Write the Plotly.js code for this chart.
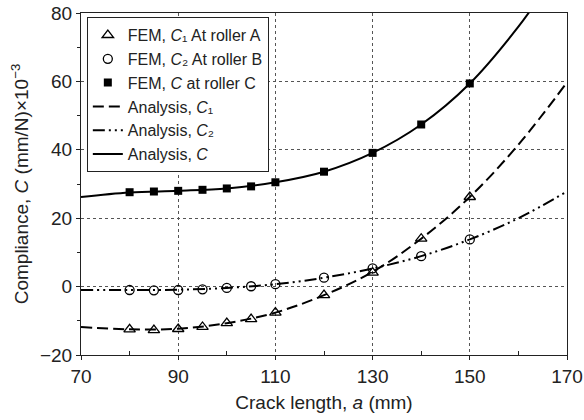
<!DOCTYPE html>
<html>
<head>
<meta charset="utf-8">
<script src="https://cdn.plot.ly/plotly-3.0.1.min.js"></script>
<style>html,body{margin:0;padding:0;background:#fff;}#chart{width:584px;height:420px;}</style>
</head>
<body>
<div id="chart"></div>
<script>
// FEM data
const femX = [80, 85, 90, 95, 100, 105, 110, 120, 130, 140, 150];
const femC1 = [-12.5, -12.7, -12.4, -11.8, -10.7, -9.5, -7.6, -2.5, 4.1, 14.0, 26.2];
const femC2 = [-1.0, -1.1, -1.0, -0.8, -0.4, 0.1, 0.7, 2.6, 5.3, 8.9, 13.8];
const femC = [27.6, 27.8, 28.0, 28.3, 28.7, 29.3, 30.5, 33.6, 39.1, 47.4, 59.4];

// Analysis curves
const anX = [70, 80, 90, 100, 110, 120, 130, 140, 150, 160, 170];
const anC1 = [-11.8, -12.5, -12.3, -10.7, -7.6, -2.5, 4.3, 14.0, 26.2, 41.5, 59.7];
const anC2 = [-1.0, -1.0, -0.9, -0.4, 0.7, 2.6, 5.3, 8.9, 13.8, 20.0, 27.8];
const anCX = [70, 80, 90, 100, 110, 120, 130, 140, 150, 160, 165];
const anC = [26.2, 27.5, 28.0, 28.7, 30.5, 33.6, 39.1, 47.4, 59.4, 76.0, 86.0];

const names = [
  'FEM, <i>C</i>₁ At roller A',
  'FEM, <i>C</i>₂ At roller B',
  'FEM, <i>C</i> at roller C',
  'Analysis, <i>C</i>₁',
  'Analysis, <i>C</i>₂',
  'Analysis, <i>C</i>'
];

const fem1 = {x: femX, y: femC1, mode: 'markers', name: names[0], legendrank: 1,
   marker: {symbol: 'triangle-up-open', size: 10, color: '#000', line: {width: 1.3}}};
const fem2 = {x: femX, y: femC2, mode: 'markers', name: names[1], legendrank: 2,
   marker: {symbol: 'circle-open', size: 9, color: '#000', line: {width: 1.3}}};
const fem3 = {x: femX, y: femC, mode: 'markers', name: names[2], legendrank: 3,
   marker: {symbol: 'square', size: 8, color: '#000'}};
const an1 = {x: anX, y: anC1, mode: 'lines', name: names[3], legendrank: 4,
   line: {shape: 'spline', color: '#000', width: 2, dash: '11px,5px'}};
const an2 = {x: anX, y: anC2, mode: 'lines', name: names[4], legendrank: 5,
   line: {shape: 'spline', color: '#000', width: 2, dash: '12px,4px,2px,4px,2px,4px'}};
const an3 = {x: anCX, y: anC, mode: 'lines', name: names[5], legendrank: 6,
   line: {shape: 'spline', color: '#000', width: 2}};

const fam = 'Liberation Sans, Arial, sans-serif';
const tickFont = {family: fam, size: 19, color: '#222'};
const legFont = {family: fam, size: 16, color: '#222'};

const layout = {
  width: 584, height: 420,
  margin: {l: 81, r: 17, t: 13, b: 65},
  paper_bgcolor: '#fff', plot_bgcolor: '#fff',
  font: tickFont,
  showlegend: true,
  legend: {x: 0.012, y: 0.988, xanchor: 'left', yanchor: 'top',
           bordercolor: '#222', borderwidth: 1, bgcolor: '#fff',
           font: legFont, tracegroupgap: 0, itemwidth: 30},
  xaxis: {
    range: [70, 170], tickvals: [70, 90, 110, 130, 150, 170],
    showline: true, linecolor: '#222', linewidth: 1, mirror: true,
    ticks: 'outside', ticklen: 4, tickcolor: '#222', tickfont: tickFont,
    showgrid: true, gridcolor: '#555', griddash: 'dot', gridwidth: 1,
    zeroline: false,
    minor: {tickvals: [80, 100, 120, 140, 160], ticks: 'inside', ticklen: 4, tickcolor: '#222', showgrid: false},
    title: {text: 'Crack length, <i>a</i> (mm)', font: tickFont, standoff: 9}
  },
  yaxis: {
    range: [-20, 80], tickvals: [-20, 0, 20, 40, 60, 80],
    showline: true, linecolor: '#222', linewidth: 1, mirror: true,
    ticks: 'outside', ticklen: 4, tickcolor: '#222', tickfont: tickFont,
    showgrid: true, gridcolor: '#555', griddash: 'dot', gridwidth: 1,
    zeroline: false,
    minor: {tickvals: [-10, 10, 30, 50, 70], ticks: 'outside', ticklen: 3, tickcolor: '#222', showgrid: false},
    title: {text: 'Compliance, <i>C</i> (mm/N)×10<sup>−3</sup>', font: tickFont, standoff: 6}
  }
};

Plotly.newPlot('chart', [an1, an2, an3, fem1, fem2, fem3], layout, {displayModeBar: false, staticPlot: true});
</script>
</body>
</html>
